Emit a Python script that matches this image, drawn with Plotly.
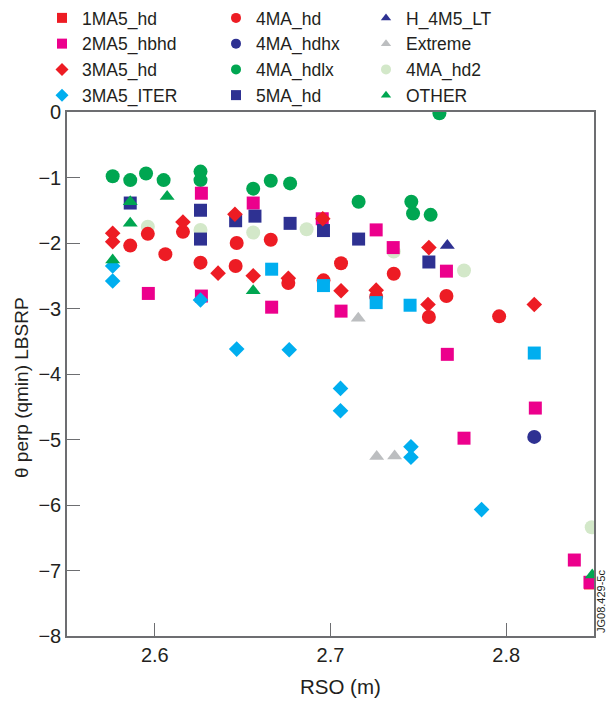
import plotly.graph_objects as go

# ---------------- data (RSO in m, theta perp) ----------------
ma1_hd_x = [2.848]
ma1_hd_y = [-7.19]

hbhd_x = [2.6265, 2.5963, 2.6265, 2.656, 2.6953, 2.726, 2.7357, 2.6665, 2.706,
          2.766, 2.7665, 2.8166, 2.776, 2.8388, 2.8477]
hbhd_y = [-1.24, -2.77, -2.81, -1.39, -1.63, -1.80, -2.07, -2.98, -3.04,
          -2.43, -3.70, -4.52, -4.98, -6.84, -7.18]

ma3_hd_x = [2.576, 2.576, 2.616, 2.636, 2.6456, 2.656, 2.676, 2.6956, 2.706,
            2.726, 2.756, 2.7555, 2.816]
ma3_hd_y = [-1.85, -1.98, -1.68, -2.46, -1.56, -2.50, -2.54, -1.63, -2.73,
            -2.72, -2.07, -2.94, -2.94]

iter_x = [2.576, 2.576, 2.626, 2.6466, 2.6765, 2.7057, 2.7057, 2.7458, 2.7458, 2.786]
iter_y = [-2.35, -2.58, -2.87, -3.62, -3.63, -4.22, -4.56, -5.11, -5.27, -6.07]

cyan_sq_x = [2.6665, 2.696, 2.726, 2.7453, 2.816]
cyan_sq_y = [-2.40, -2.65, -2.91, -2.95, -3.68]

ma4_hd_x = [2.596, 2.586, 2.606, 2.626, 2.616, 2.6466, 2.646, 2.666, 2.676,
            2.696, 2.706, 2.736, 2.726, 2.756, 2.766, 2.796]
ma4_hd_y = [-1.86, -2.04, -2.17, -2.30, -1.83, -2.00, -2.35, -1.95, -2.61,
            -2.57, -2.31, -2.47, -2.82, -3.13, -2.81, -3.12]

hdhx_x = [2.816]
hdhx_y = [-4.96]

hdlx_x = [2.576, 2.586, 2.595, 2.605, 2.626, 2.626, 2.656, 2.666, 2.677,
          2.716, 2.746, 2.747, 2.757, 2.762]
hdlx_y = [-0.98, -1.04, -0.94, -1.04, -0.91, -1.04, -1.17, -1.05, -1.09,
          -1.37, -1.37, -1.55, -1.57, -0.02]

ma5_hd_x = [2.586, 2.626, 2.626, 2.646, 2.657, 2.677, 2.696, 2.716, 2.756]
ma5_hd_y = [-1.39, -1.50, -1.94, -1.66, -1.59, -1.70, -1.81, -1.94, -2.29]

h4m5_x = [2.7665]
h4m5_y = [-2.04]

extreme_x = [2.7158, 2.7263, 2.7365]
extreme_y = [-3.15, -5.26, -5.25]

hd2_x = [2.596, 2.626, 2.656, 2.6864, 2.736, 2.776, 2.8487]
hd2_y = [-1.75, -1.80, -1.84, -1.79, -2.13, -2.42, -6.34]

other_x = [2.586, 2.586, 2.607, 2.576, 2.656, 2.849]
other_y = [-1.37, -1.70, -1.29, -2.26, -2.73, -7.07]

x_ticks = [2.6, 2.7, 2.8]

# ---------------- styles ----------------
RED = '#ED1C24'
MAGENTA = '#EC008C'
CYAN = '#00AEEF'
NAVY = '#2E3192'
GREEN = '#00A651'
GREY = '#BCBEC0'
LGREEN = '#D3E8C9'
AXC = '#6D6E71'
FONT = 'Liberation Sans, Arial, Helvetica, sans-serif'

fig = go.Figure()

# draw order (bottom -> top)
series = [
    ('1MA5_hd', ma1_hd_x, ma1_hd_y, 'square', RED, 13),
    ('4MA_hd2', hd2_x, hd2_y, 'circle', LGREEN, 14),
    ('4MA_hdlx', hdlx_x, hdlx_y, 'circle', GREEN, 14),
    ('4MA_hd', ma4_hd_x, ma4_hd_y, 'circle', RED, 14),
    ('4MA_hdhx', hdhx_x, hdhx_y, 'circle', NAVY, 14),
    ('2MA5_hbhd', hbhd_x, hbhd_y, 'square', MAGENTA, 13),
    ('5MA_hd', ma5_hd_x, ma5_hd_y, 'square', NAVY, 13),
    ('3MA5_hd', ma3_hd_x, ma3_hd_y, 'diamond', RED, 12),
    ('cyan squares', cyan_sq_x, cyan_sq_y, 'square', CYAN, 13),
    ('3MA5_ITER', iter_x, iter_y, 'diamond', CYAN, 12),
    ('Extreme', extreme_x, extreme_y, 'triangle-up', GREY, 13),
    ('H_4M5_LT', h4m5_x, h4m5_y, 'triangle-up', NAVY, 13),
    ('OTHER', other_x, other_y, 'triangle-up', GREEN, 13),
]
for name, xs, ys, sym, col, sz in series:
    fig.add_trace(go.Scatter(x=xs, y=ys, mode='markers', name=name, showlegend=False,
                             marker=dict(symbol=sym, color=col, size=sz, line=dict(width=0))))

# legend entries (three columns)
legend_cols = [
    ('legend', [('1MA5_hd', 'square', RED, 10), ('2MA5_hbhd', 'square', MAGENTA, 10),
                ('3MA5_hd', 'diamond', RED, 10), ('3MA5_ITER', 'diamond', CYAN, 10)]),
    ('legend2', [('4MA_hd', 'circle', RED, 10), ('4MA_hdhx', 'circle', NAVY, 10),
                 ('4MA_hdlx', 'circle', GREEN, 10), ('5MA_hd', 'square', NAVY, 10)]),
    ('legend3', [('H_4M5_LT', 'triangle-up', NAVY, 9), ('Extreme', 'triangle-up', GREY, 9),
                 ('4MA_hd2', 'circle', LGREEN, 10), ('OTHER', 'triangle-up', GREEN, 9)]),
]
for lg, items in legend_cols:
    for name, sym, col, sz in items:
        fig.add_trace(go.Scatter(x=[None], y=[None], mode='markers', name=name, legend=lg,
                                 showlegend=True,
                                 marker=dict(symbol=sym, color=col, size=sz, line=dict(width=0))))

leg_common = dict(orientation='v', xref='container', yref='container', xanchor='left',
                  yanchor='top', bgcolor='rgba(0,0,0,0)', tracegroupgap=0,
                  font=dict(family=FONT, size=17.5, color='#231F20'))
W, H = 607, 702
fig.update_layout(
    width=W, height=H,
    margin=dict(l=67, r=13, t=112, b=66, autoexpand=False),
    paper_bgcolor='white', plot_bgcolor='white',
    font=dict(family=FONT, size=20, color='#231F20'),
    legend=dict(x=42 / W, y=1.0, **leg_common),
    legend2=dict(x=216 / W, y=1.0, **leg_common),
    legend3=dict(x=366 / W, y=1.0, **leg_common),
    xaxis=dict(range=[2.55, 2.85], tickvals=x_ticks, ticktext=[f'{v:.1f}' for v in x_ticks],
               ticks='inside', ticklen=13, tickwidth=1.3, tickcolor=AXC,
               showline=True, linecolor=AXC, linewidth=1.6, mirror=True,
               showgrid=False, zeroline=False, tickfont=dict(size=20)),
    yaxis=dict(range=[-8, 0], dtick=1, ticks='inside', ticklen=13, tickwidth=1.3,
               tickcolor=AXC, showline=True, linecolor=AXC, linewidth=1.6, mirror=True,
               showgrid=False, zeroline=False, tickfont=dict(size=20)),
    annotations=[
        dict(text='RSO (m)', xref='paper', yref='paper', x=(340 - 67) / 527, y=(636 - 686) / 524,
             xanchor='center', yanchor='middle', showarrow=False, font=dict(size=20.5)),
        dict(text='θ perp (qmin) LBSRP', xref='paper', yref='paper', x=(21 - 67) / 527,
             y=(636 - 388) / 524, textangle=-90, xanchor='center', yanchor='middle',
             showarrow=False, font=dict(size=19)),
        dict(text='JG08.429-5c', xref='paper', yref='paper', x=(601 - 67) / 527,
             y=(636 - 602) / 524, textangle=-90, xanchor='center', yanchor='middle',
             showarrow=False, font=dict(size=11)),
    ],
)

fig.write_html('out.html')
